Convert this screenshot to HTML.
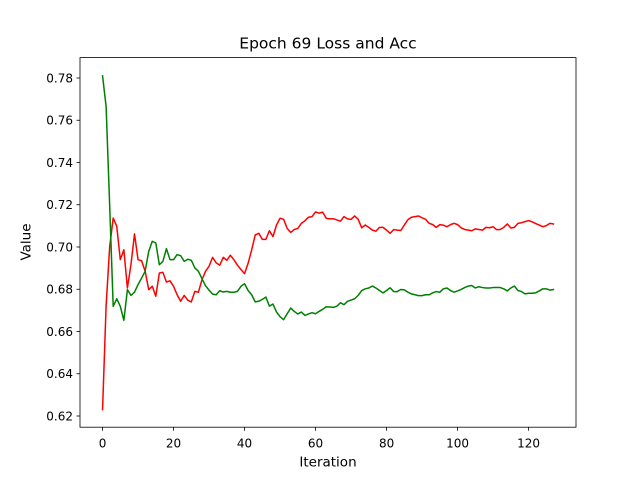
<!DOCTYPE html>
<html><head><meta charset="utf-8"><style>
body{margin:0;background:#fff}
svg{display:block;font-family:"DejaVu Sans","Liberation Sans",sans-serif}
</style></head><body>
<svg id="chart" width="640" height="480" viewBox="0 0 640 480">
<rect width="640" height="480" fill="#fff"/>
<text x="328" y="48.3" font-size="15.5" text-anchor="middle">Epoch 69 Loss and Acc</text>
<g id="series"></g>
<rect x="80" y="57.6" width="496" height="369.6" fill="none" stroke="#000" stroke-width="0.8"/>
<g id="ticks"></g>
<text x="328" y="466.7" font-size="13.5" text-anchor="middle">Iteration</text>
<text x="242" y="30.5" font-size="13.5" text-anchor="middle" transform="rotate(-90 242 30.5) translate(0 0)" id="ylab">Value</text>
</svg>
<script>
const xTicks=[0,20,40,60,80,100,120];
const yTicks=[0.62,0.64,0.66,0.68,0.70,0.72,0.74,0.76,0.78];
const redValues=[0.623,0.672,0.700,0.7137,0.7098,0.694,0.6987,0.6806,0.6916,0.7062,0.694,0.6935,0.6885,0.6798,0.6814,0.6767,0.6877,0.688,0.6834,0.684,0.6814,0.6774,0.6743,0.6771,0.6748,0.674,0.679,0.6786,0.6845,0.6885,0.6909,0.6951,0.6925,0.6914,0.6951,0.6937,0.6961,0.694,0.6914,0.6893,0.6874,0.6923,0.6986,0.7057,0.7065,0.7036,0.7036,0.7077,0.7049,0.7104,0.7136,0.7131,0.7088,0.7069,0.7083,0.7088,0.7112,0.7124,0.7141,0.7144,0.7166,0.716,0.7165,0.7136,0.7133,0.7134,0.7128,0.7122,0.7144,0.7133,0.7131,0.7147,0.7131,0.7091,0.7104,0.7093,0.708,0.7075,0.7093,0.7093,0.708,0.7065,0.7082,0.708,0.7078,0.7104,0.7129,0.7141,0.7144,0.7147,0.7138,0.7131,0.7112,0.7106,0.7093,0.7106,0.7103,0.7096,0.7106,0.7112,0.7106,0.7091,0.7083,0.708,0.7077,0.7086,0.7083,0.708,0.7093,0.7091,0.7096,0.7082,0.7083,0.7093,0.7109,0.709,0.7093,0.7112,0.7115,0.712,0.7125,0.7119,0.7111,0.7104,0.7096,0.7101,0.7112,0.7109];
const greenValues=[0.781,0.7666,0.72,0.6719,0.6755,0.6719,0.6653,0.6798,0.6771,0.6786,0.6822,0.6853,0.6885,0.6979,0.7027,0.7019,0.6916,0.6932,0.6992,0.694,0.694,0.6964,0.6959,0.6932,0.6942,0.6937,0.6901,0.6885,0.685,0.6817,0.6796,0.6777,0.6774,0.6793,0.6787,0.679,0.6786,0.6786,0.679,0.6814,0.6826,0.6794,0.6774,0.674,0.6743,0.6752,0.6763,0.672,0.673,0.6692,0.667,0.6656,0.6684,0.6711,0.6695,0.6683,0.6692,0.6676,0.6683,0.6689,0.6684,0.6695,0.6705,0.6717,0.6716,0.6714,0.672,0.6736,0.6727,0.6743,0.6749,0.6755,0.6771,0.6794,0.6802,0.6806,0.6815,0.6806,0.6794,0.6783,0.6794,0.6807,0.6789,0.6789,0.6799,0.6797,0.6786,0.6778,0.6774,0.677,0.677,0.6774,0.6774,0.6783,0.6789,0.6786,0.6802,0.6806,0.6794,0.6786,0.6792,0.6799,0.6808,0.6815,0.6818,0.6806,0.6812,0.6808,0.6806,0.6806,0.6808,0.6808,0.6808,0.6802,0.6792,0.6806,0.6815,0.6794,0.6789,0.6778,0.6781,0.6781,0.6783,0.6792,0.6802,0.6802,0.6796,0.6799];

const L=80,R=576,T=57.6,B=427.2;
const n=redValues.length;
const xMin=-(n-1)*0.05,xMax=(n-1)*1.05;
function sx(v){return L+(v-xMin)/(xMax-xMin)*(R-L);}
function sy(v){return 416-(v-0.62)*2112.5;}
const NS="http://www.w3.org/2000/svg";
const ylab=document.getElementById('ylab');
ylab.setAttribute('x',-242);ylab.setAttribute('y',30.5);ylab.setAttribute('transform','rotate(-90)');
const ticks=document.getElementById('ticks');
function mk(tag,attrs,parent){const e=document.createElementNS(NS,tag);for(const k in attrs)e.setAttribute(k,attrs[k]);parent.appendChild(e);return e;}
xTicks.forEach(t=>{
  const x=sx(t);
  const ln=mk('line',{x1:x,x2:x,y1:B,y2:B+3.5,stroke:'#000','stroke-width':0.8},ticks);
  
  
  const tx=mk('text',{x:x,y:447.7,'font-size':12,'text-anchor':'middle'},ticks);
  tx.textContent=String(t);
  
  
});
yTicks.forEach(t=>{
  const y=sy(t);
  const ln=mk('line',{x1:L-3.5,x2:L,y1:y,y2:y,stroke:'#000','stroke-width':0.8},ticks);
  
  
  const tx=mk('text',{x:L-7,y:y+4.3,'font-size':12,'text-anchor':'end'},ticks);
  tx.textContent=t.toFixed(2);
  
  
});
const series=document.getElementById('series');
function line(vals,color,name){
  const pts=vals.map((v,i)=>sx(i).toFixed(2)+','+sy(v).toFixed(2)).join(' ');
  const p=mk('polyline',{points:pts,fill:'none',stroke:color,'stroke-width':1.5,'stroke-linejoin':'round','stroke-linecap':'square'},series);
  
  
}
line(redValues,'#ff0000','red-series-line');
line(greenValues,'#008000','green-series-line');
</script>
</body></html>
